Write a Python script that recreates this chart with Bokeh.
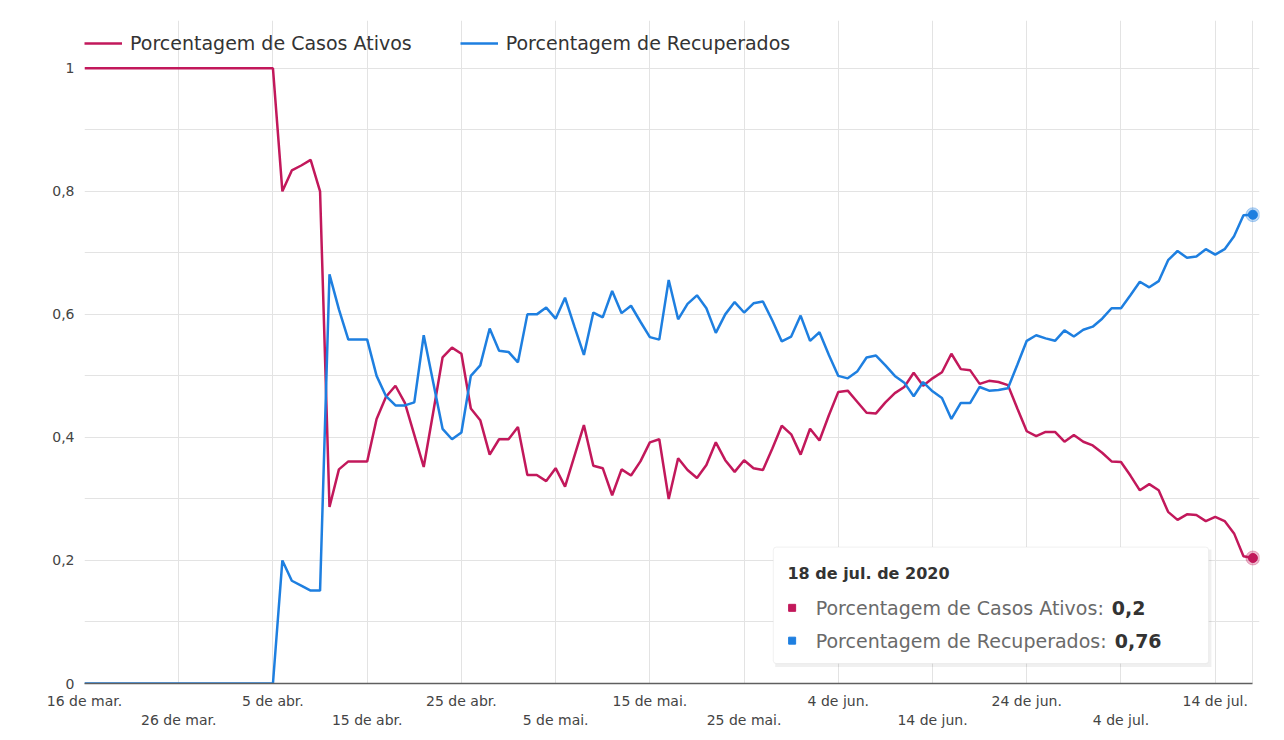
import pandas as pd
from bokeh.plotting import figure
from bokeh.models import (FixedTicker, Legend, LegendItem, BoxAnnotation, Label,
                          Range1d)
from bokeh.embed import file_html
from bokeh.resources import INLINE

# ---------------- data ----------------
start_date = "2020-03-16"
series_names = ["Porcentagem de Casos Ativos", "Porcentagem de Recuperados"]

ativos = [1] * 21 + [
    0.80, 0.834, 0.842, 0.851, 0.80, 0.287, 0.348, 0.361, 0.361, 0.361,
    0.43, 0.466, 0.484, 0.456, 0.404, 0.352, 0.44, 0.53, 0.546, 0.536,
    0.447, 0.428, 0.372, 0.397, 0.397, 0.417, 0.339, 0.339, 0.329, 0.35,
    0.32, 0.37, 0.42, 0.354, 0.35, 0.306, 0.348, 0.338, 0.361, 0.392,
    0.397, 0.30, 0.366, 0.347, 0.334, 0.355, 0.392, 0.363, 0.344, 0.363,
    0.35, 0.347, 0.382, 0.419, 0.405, 0.372, 0.414, 0.395, 0.436, 0.474,
    0.476, 0.458, 0.44, 0.439, 0.457, 0.472, 0.482, 0.505, 0.484, 0.496,
    0.506, 0.536, 0.511, 0.509, 0.487, 0.492, 0.49, 0.485, 0.447, 0.41,
    0.402, 0.409, 0.409, 0.393, 0.404, 0.393, 0.387, 0.375, 0.361, 0.36,
    0.338, 0.314, 0.324, 0.314, 0.279, 0.266, 0.275, 0.274, 0.264, 0.271,
    0.264, 0.244, 0.207, 0.204]

recuperados = [0] * 21 + [
    0.20, 0.167, 0.159, 0.151, 0.151, 0.665, 0.608, 0.559, 0.559, 0.559,
    0.50, 0.467, 0.452, 0.452, 0.457, 0.566, 0.49, 0.414, 0.397, 0.408,
    0.50, 0.517, 0.577, 0.541, 0.539, 0.522, 0.60, 0.60, 0.611, 0.593,
    0.627, 0.58, 0.534, 0.603, 0.595, 0.638, 0.602, 0.614, 0.588, 0.563,
    0.559, 0.656, 0.592, 0.617, 0.631, 0.61, 0.57, 0.60, 0.62, 0.603,
    0.618, 0.621, 0.59, 0.556, 0.564, 0.598, 0.557, 0.571, 0.534, 0.50,
    0.496, 0.507, 0.53, 0.533, 0.517, 0.50, 0.489, 0.467, 0.49, 0.475,
    0.464, 0.43, 0.456, 0.456, 0.482, 0.476, 0.477, 0.48, 0.518, 0.557,
    0.566, 0.561, 0.557, 0.574, 0.564, 0.575, 0.58, 0.593, 0.61, 0.61,
    0.631, 0.653, 0.644, 0.654, 0.688, 0.703, 0.692, 0.694, 0.706, 0.697,
    0.706, 0.727, 0.761, 0.762]

tick_dates = ["2020-03-16", "2020-03-26", "2020-04-05", "2020-04-15", "2020-04-25",
              "2020-05-05", "2020-05-15", "2020-05-25", "2020-06-04", "2020-06-14",
              "2020-06-24", "2020-07-04", "2020-07-14"]
tick_labels = ["16 de mar.", "26 de mar.", "5 de abr.", "15 de abr.", "25 de abr.",
               "5 de mai.", "15 de mai.", "25 de mai.", "4 de jun.", "14 de jun.",
               "24 de jun.", "4 de jul.", "14 de jul."]
y_ticks = [0, 0.2, 0.4, 0.6, 0.8, 1]
y_labels = ["0", "0,2", "0,4", "0,6", "0,8", "1"]
y_grid = [0, 0.1, 0.2, 0.3, 0.4, 0.5, 0.6, 0.7, 0.8, 0.9, 1.0]
tooltip_title = "18 de jul. de 2020"

# ---------------- styling ----------------
RED = "#C2185B"
BLUE = "#1E7FE0"
FONT = "DejaVu Sans"
DAY = 86400000.0
GRID = "#e3e3e3"

dates = pd.date_range(start_date, periods=len(ativos), freq="D")
ms = [d.value / 1e6 for d in dates]
t0, t1 = ms[0], ms[-1]

def dx(days):
    return t0 + days * DAY

# frame: left 84, right ~1258.6, top 20, bottom 686 (page px)
p = figure(width=1268, height=730, x_axis_type="datetime",
           output_backend="svg", toolbar_location=None,
           x_range=Range1d(t0, t1 + 0.7 * DAY), y_range=Range1d(0, 666 / 618),
           min_border_left=84, min_border_right=9, min_border_top=20,
           min_border_bottom=44)
p.outline_line_color = None
p.background_fill_color = "white"
p.border_fill_color = "white"

tick_ms = [pd.Timestamp(t).value / 1e6 for t in tick_dates]
p.xaxis.ticker = FixedTicker(ticks=tick_ms)
p.xaxis.bounds = (t0, t1)
p.xaxis.major_label_overrides = {
    t: (lab if i % 2 == 0 else "\n" + lab) for i, (t, lab) in enumerate(zip(tick_ms, tick_labels))}
p.xaxis.axis_line_color = "#5f5f5f"
p.xaxis.axis_line_width = 1.5
p.xaxis.major_tick_line_color = None
p.xaxis.minor_tick_line_color = None
p.xaxis.major_tick_out = 0
p.xaxis.major_tick_in = 0
p.xaxis.major_label_standoff = 9
p.xaxis.major_label_text_font = FONT
p.xaxis.major_label_text_font_size = "14px"
p.xaxis.major_label_text_color = "#444444"

p.yaxis.ticker = FixedTicker(ticks=y_ticks)
p.yaxis.major_label_overrides = dict(zip(y_ticks, y_labels))
p.yaxis.axis_line_color = None
p.yaxis.major_tick_line_color = None
p.yaxis.minor_tick_line_color = None
p.yaxis.major_tick_out = 0
p.yaxis.major_tick_in = 0
p.yaxis.major_label_standoff = 10
p.yaxis.major_label_text_font = FONT
p.yaxis.major_label_text_font_size = "14px"
p.yaxis.major_label_text_color = "#444444"

p.xgrid.ticker = FixedTicker(ticks=tick_ms + [t1])
p.xgrid.bounds = (0, 1)
p.ygrid.ticker = FixedTicker(ticks=y_grid)
p.ygrid.bounds = (t0, t1)
p.xgrid.grid_line_color = GRID
p.ygrid.grid_line_color = GRID

r_red = p.line(dates, ativos, line_color=RED, line_width=2.5)
r_blue = p.line(dates, recuperados, line_color=BLUE, line_width=2.5)

# end markers (hovered point)
p.scatter([dates[-1]], [ativos[-1]], size=14, color=RED, alpha=0.3)
p.scatter([dates[-1]], [ativos[-1]], size=9, color=RED)
p.scatter([dates[-1]], [recuperados[-1]], size=14, color=BLUE, alpha=0.3)
p.scatter([dates[-1]], [recuperados[-1]], size=9, color=BLUE)

legend = Legend(items=[LegendItem(label=series_names[0], renderers=[r_red]),
                       LegendItem(label=series_names[1], renderers=[r_blue])],
                orientation="horizontal", location="top_left",
                padding=0, margin=0, spacing=48, glyph_width=38,
                glyph_height=46, label_height=46, label_standoff=8,
                border_line_color=None, background_fill_alpha=0,
                label_text_font=FONT, label_text_font_size="19px",
                label_text_color="#333333")
p.add_layout(legend, "center")

# tooltip box
p.add_layout(BoxAnnotation(left=dx(73.3), right=dx(119.6), top=0.218, bottom=0.027,
                           fill_color="black", fill_alpha=0.06, line_color=None,
                           level="annotation"))
p.add_layout(BoxAnnotation(left=dx(73.1), right=dx(119.3), top=0.2217, bottom=0.0324,
                           fill_color="white", fill_alpha=1.0, line_color="#cfcfcf",
                           line_width=1, border_radius=3, level="annotation"))

p.add_layout(Label(x=dx(74.6), y=0.178, text=tooltip_title, text_font=FONT,
                   text_font_size="16px", text_font_style="bold",
                   text_color="#333333", text_baseline="middle", level="overlay"))

sq = p.scatter([dx(75.1), dx(75.1)], [0.123, 0.0696], marker="square", size=7,
               color=[RED, BLUE])
sq.level = "overlay"

fmt = lambda v: f"{round(v, 2):g}".replace(".", ",")
lines = [(series_names[0] + ":", fmt(ativos[-1]), 0.123, 296),
         (series_names[1] + ":", fmt(recuperados[-1]), 0.0696, 299)]
for txt, val, yv, off in lines:
    p.add_layout(Label(x=dx(77.6), y=yv, text=txt, text_font=FONT,
                       text_font_size="19px", text_color="#6a6a6a",
                       text_baseline="middle", level="overlay"))
    p.add_layout(Label(x=dx(77.6), y=yv, x_offset=off, text=val, text_font=FONT,
                       text_font_size="19px", text_font_style="bold",
                       text_color="#333333", text_baseline="middle", level="overlay"))

open("out.html", "w").write(file_html(p, INLINE))
